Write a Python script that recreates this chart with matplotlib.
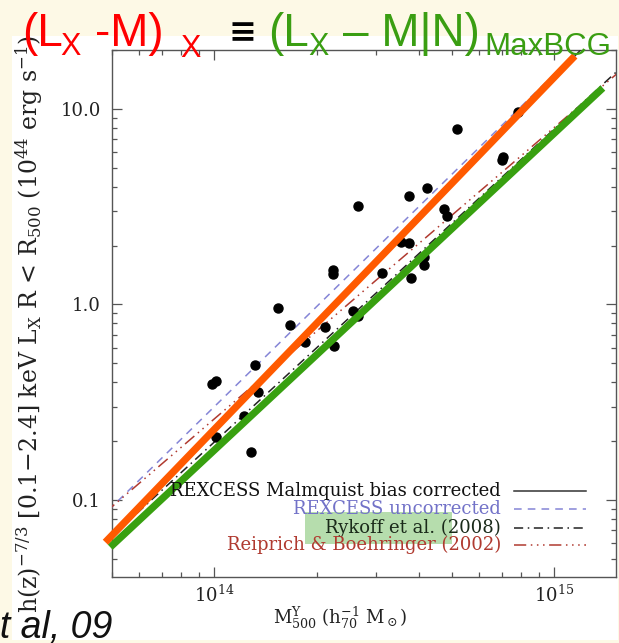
import numpy as np
import matplotlib
matplotlib.use('Agg')
import matplotlib.pyplot as plt
from matplotlib.patches import Rectangle
from matplotlib.ticker import FixedLocator, FixedFormatter, LogLocator, NullFormatter

# cluster sample (M500 in Msun/h70, Lx in 1e44 erg/s)
mass = [5.16e14, 7.08e14, 7.03e14, 4.23e14, 3.75e14, 2.65e14, 4.74e14, 4.84e14,
        3.55e14, 3.75e14, 4.15e14, 4.15e14, 3.80e14, 3.12e14, 2.24e14, 2.24e14,
        1.54e14, 1.67e14, 2.56e14, 2.65e14, 2.11e14, 1.85e14, 2.25e14, 1.32e14,
        1.01e14, 9.86e13, 1.34e14, 1.22e14, 1.01e14, 1.28e14, 7.83e14]
lum = [7.90, 5.68, 5.48, 3.94, 3.59, 3.19, 3.08, 2.84,
       2.09, 2.06, 1.75, 1.59, 1.37, 1.45, 1.50, 1.43,
       0.960, 0.785, 0.926, 0.873, 0.767, 0.643, 0.613, 0.490,
       0.406, 0.392, 0.357, 0.269, 0.210, 0.176, 9.66]

# power-law relations  L = norm * (M / pivot)^slope
pivot = 2e14
rel_names = ['REXCESS Malmquist bias corrected', 'REXCESS uncorrected',
             'Rykoff et al. (2008)', 'Reiprich & Boehringer (2002)']
rel_norm = [0.80, 0.975, 0.60, 0.73]
rel_slope = [1.80, 1.70, 1.60, 1.49]

# overlaid fits (slide annotations)
fit_x_range = {'Lx-M': (4.78e13, 1.15e15), 'MaxBCG': (4.94e13, 1.39e15)}
fit_norm = {'Lx-M': 0.80, 'MaxBCG': 0.553}
fit_slope = {'Lx-M': 1.80, 'MaxBCG': 1.62}

W, H = 619, 643
plt.rcParams['font.family'] = ['DejaVu Serif']
plt.rcParams['mathtext.fontset'] = 'dejavuserif'

fig = plt.figure(figsize=(W / 100, H / 100), dpi=100, facecolor='#fdf9e6')


def fx(px):
    return px / W


def fy(py):
    return 1 - py / H


# white picture panel on the cream slide
fig.patches.append(Rectangle((fx(12), fy(640)), fx(618) - fx(12), fy(36) - fy(640),
                             transform=fig.transFigure, facecolor='white',
                             edgecolor='none', zorder=-10))

L, R, T, B = 112, 616, 50, 577
ax = fig.add_axes([fx(L), fy(B), (R - L) / W, (B - T) / H])
ax.set_facecolor('white')
ax.set_xscale('log')
ax.set_yscale('log')
ax.set_xlim(5e13, 1.52e15)
ax.set_ylim(0.0404, 20.0)

gray = '#555555'
for s in ax.spines.values():
    s.set_color(gray)
    s.set_linewidth(1.0)
ax.tick_params(which='both', direction='in', top=True, right=True, colors=gray,
               labelcolor='#222222', width=0.9)
ax.tick_params(which='major', length=7, labelsize=13)
ax.tick_params(which='minor', length=3.5)
ax.tick_params(axis='y', which='major', pad=8)
ax.tick_params(axis='x', which='major', pad=5.5)
ax.xaxis.set_major_locator(FixedLocator([1e14, 1e15]))
ax.xaxis.set_major_formatter(FixedFormatter([r'$10^{14}$', r'$10^{15}$']))
ax.xaxis.set_minor_locator(LogLocator(base=10, subs=np.arange(2, 10)))
ax.xaxis.set_minor_formatter(NullFormatter())
ax.yaxis.set_major_locator(FixedLocator([0.1, 1.0, 10.0]))
ax.yaxis.set_major_formatter(FixedFormatter(['0.1', '1.0', '10.0']))
ax.yaxis.set_minor_locator(LogLocator(base=10, subs=np.arange(2, 10)))
ax.yaxis.set_minor_formatter(NullFormatter())

rel_colors = ['#333333', '#8585d6', '#222222', '#b03a30']
rel_styles = ['-', (0, (5, 4)), (0, (6, 3, 1, 3)), (0, (8, 3, 1, 3, 1, 3, 1, 3))]
rel_text_colors = ['#111111', '#7272c8', '#1a2a1a', '#b03a30']

mgrid = np.logspace(13.6, 15.3, 200)
for n, b, c, ls in zip(rel_norm, rel_slope, rel_colors, rel_styles):
    ax.plot(mgrid, n * (mgrid / pivot) ** b, color=c, lw=1.1, ls=ls, zorder=3)

ax.plot(mass, lum, 'o', color='black', ms=6.5, mec='black', zorder=4)

for key, c in [('MaxBCG', '#38a010'), ('Lx-M', '#ff5a00')]:
    m = np.logspace(np.log10(fit_x_range[key][0]), np.log10(fit_x_range[key][1]), 50)
    ax.plot(m, fit_norm[key] * (m / pivot) ** fit_slope[key], color=c, lw=5.2,
            solid_capstyle='butt', zorder=5, clip_on=False)

# hand-made legend
def ax_xy(px, py):
    return (px - L) / (R - L), (B - py) / (B - T)

ax.add_patch(Rectangle(ax_xy(305, 544), (452 - 305) / (R - L), (544 - 512) / (B - T),
                       transform=ax.transAxes, facecolor='#b6ddad', edgecolor='none',
                       zorder=6))
rows = [491, 509, 528, 545]
for name, c, tc, ls, py in zip(rel_names, rel_colors, rel_text_colors, rel_styles, rows):
    x0, y0 = ax_xy(501, py)
    ax.text(x0, y0, name, transform=ax.transAxes, ha='right', va='center',
            fontsize=13, color=tc, zorder=7)
    xa, _ = ax_xy(514, py)
    xb, _ = ax_xy(586, py)
    ax.plot([xa, xb], [y0, y0], transform=ax.transAxes, color=c, lw=1.1, ls=ls,
            zorder=7)

# axis labels
fig.text(fx(29), fy(324),
         r'h(z)$^{-7/3}$ [0.1$-$2.4] keV L$_\mathrm{X}$ R < R$_{500}$ (10$^{44}$ erg s$^{-1}$)',
         rotation=90, ha='center', va='center', fontsize=17, color='#222222', zorder=2)
fig.text(fx(340), fy(618), r'M$^\mathrm{Y}_{500}$ (h$_{70}^{-1}$ M$_\odot$)',
         ha='center', va='center', fontsize=13, color='#222222')

# slide title
sans = ['Liberation Sans', 'DejaVu Sans']
red, green = '#ff0000', '#3a9e12'
title_parts = [
    ('(L', 22, 46, 33, red), ('X', 60, 55, 22, red), ('-M)', 95, 46, 33, red),
    ('X', 180, 57, 22, red),
    ('(L', 268, 46, 33, green), ('X', 308, 55, 22, green),
    ('\u2013 M|N)', 343, 46, 33, green), ('MaxBCG', 484, 55, 22.5, green),
]
for s, px, py, size, c in title_parts:
    fig.text(fx(px), fy(py), s, ha='left', va='baseline', fontsize=size, color=c,
             family=sans, zorder=10)
fig.text(fx(228), fy(42), '\u2261', ha='left', va='baseline', fontsize=24,
         color='black', fontweight='bold', family=['DejaVu Sans'], zorder=10)

fig.text(fx(-21), fy(638), 'et al, 09', ha='left', va='baseline', fontsize=27,
         style='italic', color='#111111', family=sans, zorder=10)

fig.savefig('out.png', dpi=100, facecolor=fig.get_facecolor())
